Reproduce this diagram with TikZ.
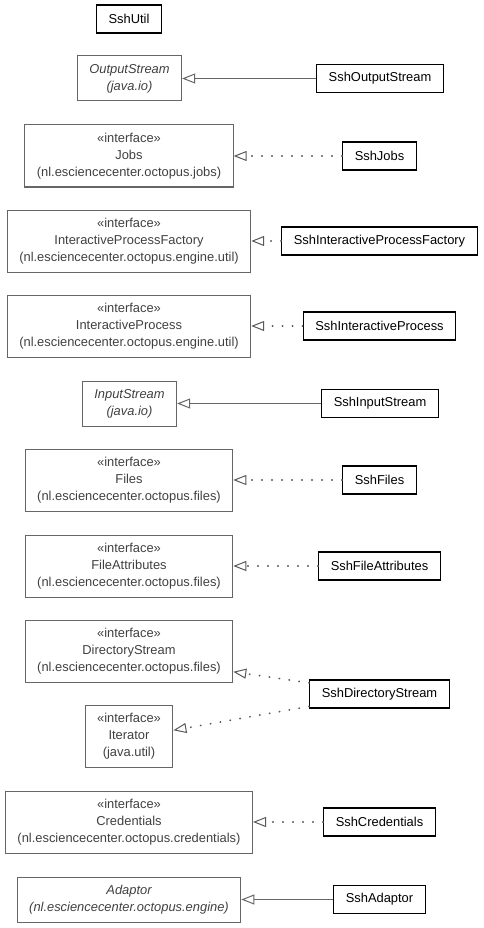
\documentclass[tikz,border=0pt]{standalone}
\usepackage{fontspec}
\setmainfont{Liberation Sans}
\usetikzlibrary{arrows.meta,positioning}

\begin{document}
\begin{tikzpicture}[x=1pt, y=-1pt, node distance=250.5pt, on grid,
    every node/.style={font=\fontsize{12.9}{17}\selectfont, inner xsep=12pt, inner ysep=0pt, align=center},
    super/.style={draw=black!60, text=black!75, line width=1pt},
    iface/.style={super, minimum height=62pt},
    abstract/.style={super, minimum height=45pt, font=\fontsize{12.9}{17}\selectfont\itshape},
    impl/.style={draw, line width=1.2pt, minimum height=28pt},
    realizes/.style={draw=black!65, line width=1.8pt, line cap=round, dash pattern=on 0.3pt off 9.7pt,
      -{Triangle[open, length=13pt, width=10pt, line width=1pt]}},
    extends/.style={draw=black!60, line width=1pt, -{Triangle[open, length=13pt, width=10pt]}}]
  \useasboundingbox (0,0) rectangle (483,928);

  % Super classes and interfaces
  \node[impl] (sshutil) at (129,19) {SshUtil};
  \node[abstract] (os) at (129.5,78.5) {OutputStream\\(java.io)};
  \node[iface] (jobs) at (129,156) {«interface»\\Jobs\\(nl.esciencecenter.octopus.jobs)};
  \node[iface] (ipf) at (129,241) {«interface»\\InteractiveProcessFactory\\(nl.esciencecenter.octopus.engine.util)};
  \node[iface] (ip) at (129,326) {«interface»\\InteractiveProcess\\(nl.esciencecenter.octopus.engine.util)};
  \node[abstract] (is) at (129.5,403.5) {InputStream\\(java.io)};
  \node[iface] (files) at (129,480) {«interface»\\Files\\(nl.esciencecenter.octopus.files)};
  \node[iface] (fattr) at (129,566) {«interface»\\FileAttributes\\(nl.esciencecenter.octopus.files)};
  \node[iface] (ds) at (129,651.5) {«interface»\\DirectoryStream\\(nl.esciencecenter.octopus.files)};
  \node[iface] (it) at (129,736.5) {«interface»\\Iterator\\(java.util)};
  \node[iface] (cred) at (129,822) {«interface»\\Credentials\\(nl.esciencecenter.octopus.credentials)};
  \node[abstract] (adaptor) at (129,899.5) {Adaptor\\(nl.esciencecenter.octopus.engine)};

  % Ssh classes
  \node[impl] (sshos) [right=of os] {SshOutputStream};
  \node[impl] (sshjobs) [right=of jobs] {SshJobs};
  \node[impl] (sshipf) [right=of ipf] {SshInteractiveProcessFactory};
  \node[impl] (sship) [right=of ip] {SshInteractiveProcess};
  \node[impl] (sshis) [right=of is] {SshInputStream};
  \node[impl] (sshfiles) [right=of files] {SshFiles};
  \node[impl] (sshfattr) [right=of fattr] {SshFileAttributes};
  \node[impl] (sshds) at (379.5,694) {SshDirectoryStream};
  \node[impl] (sshcred) [right=of cred] {SshCredentials};
  \node[impl] (sshadaptor) [right=of adaptor] {SshAdaptor};

  % Generalizations and realizations
  \path
    (sshos) edge[extends] (os)
    (sshjobs) edge[realizes] (jobs)
    (sshipf) edge[realizes] (ipf)
    (sship) edge[realizes] (ip)
    (sshis) edge[extends] (is)
    (sshfiles) edge[realizes] (files)
    (sshfattr) edge[realizes] (fattr)
    (sshds.171) edge[realizes] (ds.-11)
    (sshds.190) edge[realizes] (it.8)
    (sshcred) edge[realizes] (cred)
    (sshadaptor) edge[extends] (adaptor);
\end{tikzpicture}
\end{document}
